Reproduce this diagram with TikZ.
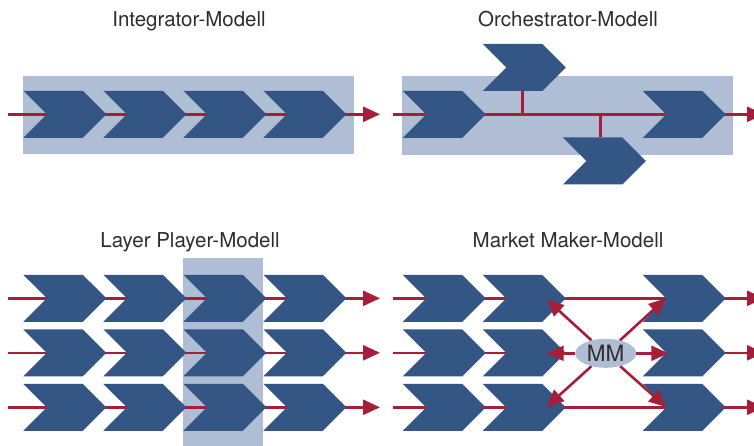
\documentclass[tikz,border=0pt]{standalone}
\usepackage{fontspec}
\setmainfont{TeX Gyre Heros}
\usetikzlibrary{shapes.symbols,shapes.geometric,arrows.meta}

\definecolor{chevblue}{RGB}{52,86,133}
\definecolor{paleblue}{RGB}{175,190,212}
\definecolor{flowred}{RGB}{166,30,56}
\definecolor{titlegray}{RGB}{45,45,45}

\tikzset{
  chevron/.style={shape=signal, signal from=west, signal to=east,
    signal pointer angle=90, minimum width=83pt, minimum height=47pt,
    inner sep=0pt, outer sep=0pt, fill=chevblue, draw=none},
  panel/.style={fill=paleblue, draw=none},
  flow/.style={draw=flowred, line width=2.6pt},
  flowarrow/.style={flow, -{Triangle[length=17pt,width=15pt]}},
  title/.style={anchor=base, text=titlegray, font=\fontsize{20.5}{22}\selectfont, inner sep=0pt},
  mmbubble/.style={ellipse, fill=paleblue, draw=none, minimum width=61pt,
    minimum height=29pt, inner sep=0pt, text=titlegray,
    font=\fontsize{22.5}{24}\selectfont}
}

\begin{document}
\begin{tikzpicture}[x=1pt,y=-1pt]
\useasboundingbox (0,0) rectangle (754,446);

% ---------- titles ----------
\node[title] (tInt) at (189,26.7) {Integrator-Modell};
\node[title] (tOrc) at (568,26.7) {Orchestrator-Modell};
\node[title] (tLay) at (190,247.6) {Layer Player-Modell};
\node[title] (tMM)  at (568,247.6) {Market Maker-Modell};

% ---------- Integrator ----------
\fill[panel] (22.7,75.7) rectangle (354,154.3);
\coordinate (iS) at (8,114.3);
\coordinate (iE) at (380,114.3);
\draw[flowarrow] (iS) -- (iE);
\foreach \c/\x in {1/64.8,2/144.8,3/224.8,4/304.8}
  \node[chevron] (i\c) at (\x,114.3) {};

% ---------- Orchestrator ----------
\fill[panel] (402,75.7) rectangle (732.7,155);
\coordinate (oS) at (392.5,114.3);
\coordinate (oE) at (764,114.3);
\draw[flowarrow] (oS) -- (oE);
\node[chevron] (o1) at (444.2,114.3) {};
\node[chevron] (o4) at (684.2,114.3) {};
\node[chevron] (oTop) at (524.3,67.5) {};
\node[chevron] (oBot) at (604.3,161) {};
\draw[flow] ([xshift=-2pt]oTop.south) -- ([xshift=-2pt]oTop.south |- oS);
\draw[flow] ([xshift=-3.6pt]oBot.north) -- ([xshift=-3.6pt]oBot.north |- oS);

% ---------- Layer Player ----------
\fill[panel] (183,258.3) rectangle (263,450);
\foreach \r/\y in {1/298.3,2/352.8,3/407.3}{
  \coordinate (lS\r) at (8,\y);
  \coordinate (lE\r) at (380,\y);
  \draw[flowarrow] (lS\r) -- (lE\r);
  \foreach \c/\x in {1/64.8,2/144.8,3/224.8,4/304.8}
    \node[chevron] (l\r\c) at (\x,\y) {};
}

% ---------- Market Maker ----------
\foreach \r/\y in {1/298.3,2/352.8,3/407.3}{
  \coordinate (mS\r) at (392.5,\y);
  \coordinate (mE\r) at (764,\y);
}
\coordinate (mIn2) at (524.2,352.8);
\coordinate (mOut2) at (684.2,352.8);
\draw[flowarrow] (mS1) -- (mE1);
\draw[flowarrow] (mS3) -- (mE3);
\draw[flow] (mS2) -- (mIn2);
\draw[flowarrow] (mOut2) -- (mE2);
\foreach \r/\y in {1/298.3,2/352.8,3/407.3}{
  \node[chevron] (m\r1) at (444.2,\y) {};
  \node[chevron] (m\r2) at (524.2,\y) {};
  \node[chevron] (m\r3) at (684.2,\y) {};
}
\node[mmbubble] (mm) at (605.7,353.3) {MM};
\coordinate (aUL) at (546.7,299.5);
\coordinate (aML) at (546.7,353.3);
\coordinate (aLL) at (546.7,406.7);
\coordinate (aUR) at (666,298.3);
\coordinate (aMR) at (668.3,353.3);
\coordinate (aLR) at (666,407);
\foreach \t in {aUL,aML,aLL,aUR,aMR,aLR}
  \draw[flowarrow] (mm) -- (\t);
\end{tikzpicture}
\end{document}
